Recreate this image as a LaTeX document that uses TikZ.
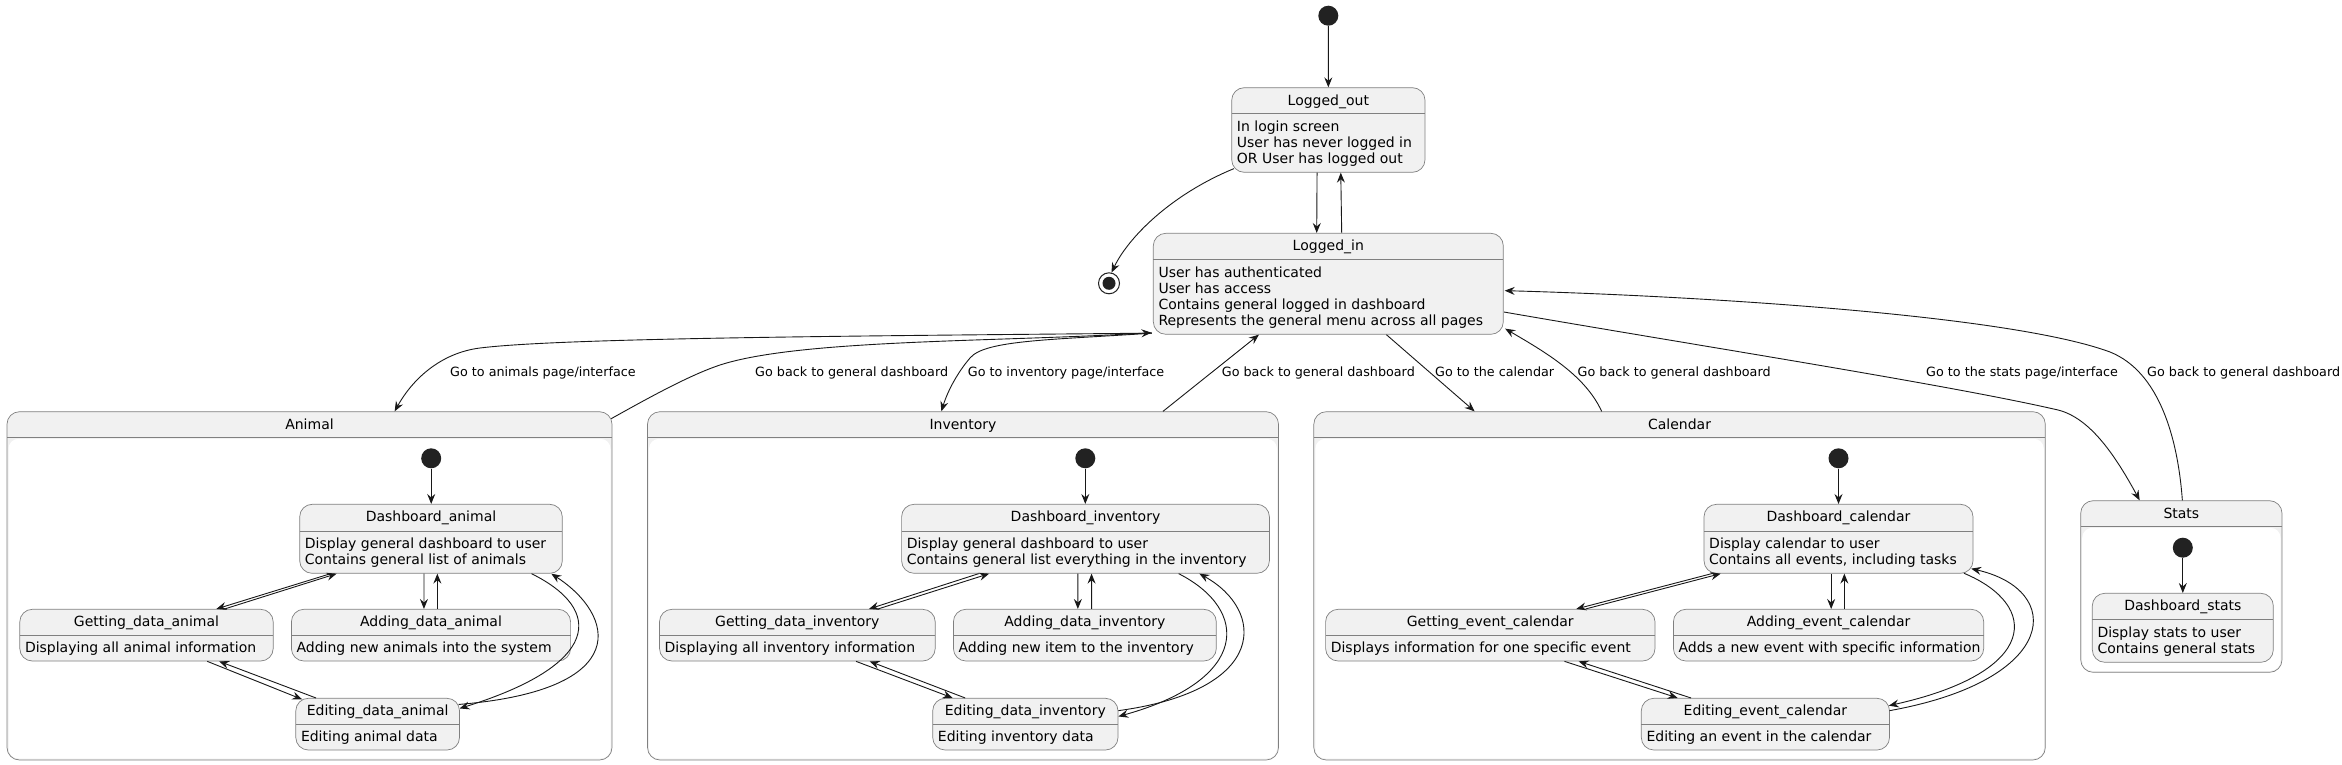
\documentclass[tikz,border=0pt]{standalone}
\usepackage{fontspec}
\setmainfont{DejaVu Sans}
\usetikzlibrary{arrows.meta,calc}
\definecolor{stfill}{HTML}{F1F1F1}
\definecolor{stline}{HTML}{181818}
\definecolor{bdline}{HTML}{808080}
\definecolor{dotc}{HTML}{222222}
\tikzset{
  stbox/.style={rectangle, draw=bdline, line width=0.7pt, fill=stfill, rounded corners=12.5pt, inner sep=0pt},
  sepl/.style={draw=bdline, line width=0.7pt},
  ttl/.style={font=\fontsize{14}{16.3}\selectfont, anchor=base, inner sep=0pt},
  bdy/.style={font=\fontsize{14}{16.3}\selectfont, align=left, anchor=north west, inner sep=0pt},
  lbl/.style={font=\fontsize{12.75}{15}\selectfont, anchor=base west, inner sep=0pt},
  arr/.style={draw=stline, line width=0.9pt, -{Stealth[length=10pt,width=8pt,inset=3.5pt]}},
  initc/.style={circle, fill=dotc, minimum size=20pt, inner sep=0pt},
  finalc/.style={circle, draw=dotc, line width=1pt, fill=white, minimum size=21pt, inner sep=0pt},
}
\newcommand\mystate[8]{%
  \node[stbox, minimum width={(#4-#2)*1pt}, minimum height={(#5-#3)*1pt}] (#1) at ({(#2+#4)/2},{(#3+#5)/2}) {};
  \draw[sepl] (#2,#6) -- (#4,#6);
  \node[ttl] (#1-title) at ({(#2+#4)/2},{#3+17.5}) {#7};
  \node[bdy] (#1-body) at ({#2+5},{#6+6.1}) {\strut #8};
}
\newcommand\mycomp[7]{%
  \node[stbox, minimum width={(#4-#2)*1pt}, minimum height={(#5-#3)*1pt}] (#1) at ({(#2+#4)/2},{(#3+#5)/2}) {};
  \fill[white, rounded corners=10pt] ({#2+1.5},{#6+1.5}) rectangle ({#4-1.5},{#5-1.5});
  \draw[sepl] (#2,#6) -- (#4,#6);
  \node[ttl] (#1-title) at ({(#2+#4)/2},{#3+17.5}) {#7};
}
\begin{document}
\begin{tikzpicture}[x=1pt,y=-1pt]
\useasboundingbox (0,0) rectangle (2342,765);

% top level
\node[initc] (start) at (1328.3,15.7) {};
\mystate{LoggedOut}{1231.7}{87.7}{1425}{172.3}{113.3}{Logged\_out}{In login screen\\User has never logged in\\OR User has logged out}
\mystate{LoggedIn}{1153.3}{233.3}{1503.3}{334.3}{259.3}{Logged\_in}{User has authenticated\\User has access\\Contains general logged in dashboard\\Represents the general menu across all pages}
\node[finalc] (final) at (1109,283.3) {};
\fill[dotc] (final.center) circle[radius=6.5];

% containers
\mycomp{Animal}{7}{411.7}{612}{760}{437.3}{Animal}
\mycomp{Inventory}{647.5}{411.7}{1278.5}{760}{437.3}{Inventory}
\mycomp{Calendar}{1313.8}{411.7}{2045.3}{760}{437.3}{Calendar}
\mycomp{Stats}{2080.7}{500.7}{2282}{672.3}{526.3}{Stats}

% Animal
\node[initc] (iA) at (431.2,458.3) {};
\mystate{DA}{299.7}{504.3}{562.3}{573.3}{530.9}{Dashboard\_animal}{Display general dashboard to user\\Contains general list of animals}
\mystate{GA}{19.8}{609.3}{273.2}{661}{635}{Getting\_data\_animal}{Displaying all animal information}
\mystate{AA}{291.4}{609.3}{570.6}{661}{635}{Adding\_data\_animal}{Adding new animals into the system}
\mystate{EA}{295.8}{698.3}{459.5}{750}{724}{Editing\_data\_animal}{Editing animal data}

% Inventory
\node[initc] (iI) at (1085.3,458.3) {};
\mystate{DI}{901.6}{504.3}{1269.4}{573.3}{530.9}{Dashboard\_inventory}{Display general dashboard to user\\Contains general list everything in the inventory}
\mystate{GI}{659.5}{609.3}{935.2}{661}{635}{Getting\_data\_inventory}{Displaying all inventory information}
\mystate{AI}{953.4}{609.3}{1216.3}{661}{635}{Adding\_data\_inventory}{Adding new item to the inventory}
\mystate{EI}{932.7}{698.3}{1118}{750}{724}{Editing\_data\_inventory}{Editing inventory data}

% Calendar
\node[initc] (iC) at (1838.5,458.3) {};
\mystate{DC}{1704}{504.3}{1973}{573.3}{530.9}{Dashboard\_calendar}{Display calendar to user\\Contains all events, including tasks}
\mystate{GC}{1325.6}{609.3}{1655}{661}{635}{Getting\_event\_calendar}{Displays information for one specific event}
\mystate{AC}{1673.4}{609.3}{1983.7}{661}{635}{Adding\_event\_calendar}{Adds a new event with specific information}
\mystate{EC}{1641.3}{698.3}{1889.5}{750}{724}{Editing\_event\_calendar}{Editing an event in the calendar}

% Stats
\node[initc] (iS) at (2182.8,547.7) {};
\mystate{DS}{2092.3}{593.3}{2273.3}{662.3}{619.7}{Dashboard\_stats}{Display stats to user\\Contains general stats}

% ---- top-level edges
\draw[arr] (start) -- (LoggedOut);
\draw[arr] ($(LoggedOut.south)+(-11.3,0)$) -- ($(LoggedIn.north)+(-11.6,0)$);
\draw[arr] ($(LoggedIn.north)+(13.4,0)$) -- ($(LoggedOut.south)+(12.4,0)$);
\draw[arr] ($(LoggedOut.south west)+(2.5,-4)$) .. controls (1170,195) and (1128,238) .. (final.77);

\draw[arr] ($(LoggedIn.south west)+(-1,-1.5)$) .. controls (850,336) and (560,338) .. (480,348) .. controls (440,353) and (412,380) .. ($(Animal.north west)+(388,0)$);
\draw[arr] ($(Animal.north east)+(-1.1,7.3)$) .. controls (650,397) and (690,375) .. (720,365) .. controls (800,339) and (1000,342) .. ($(LoggedIn.south west)+(-1.5,-2)$);
\draw[arr] ($(LoggedIn.south west)+(-1,-1.5)$) .. controls (1050,340) and (985,340) .. (970,358) .. controls (958,372) and (948,390) .. ($(Inventory.north west)+(294.2,0)$);
\draw[arr] ($(Inventory.north west)+(515.8,0)$) -- ($(LoggedIn.south west)+(106,0)$);
\draw[arr] ($(LoggedIn.south west)+(233.4,0)$) -- ($(Calendar.north west)+(161.2,0)$);
\draw[arr] ($(Calendar.north west)+(288.2,0)$) .. controls (1585,375) and (1545,352) .. ($(LoggedIn.south east)+(1.5,-6)$);
\draw[arr] ($(LoggedIn.south east)+(0.5,-22.6)$) .. controls (1700,346) and (1950,385) .. (2058,410) .. controls (2090,418) and (2115,455) .. ($(Stats.north west)+(59.3,0)$);
\draw[arr] ($(Stats.north west)+(102,0)$) .. controls (2178,440) and (2160,372) .. (2110,352) .. controls (2010,315) and (1700,296) .. ($(LoggedIn.north east)+(1,57.7)$);

% labels
\node[lbl] (l1) at (450,376.6) {Go to animals page/interface};
\node[lbl] (l2) at (755,376.6) {Go back to general dashboard};
\node[lbl] (l3) at (967.7,376.6) {Go to inventory page/interface};
\node[lbl] (l4) at (1221.7,376.6) {Go back to general dashboard};
\node[lbl] (l5) at (1435,376.6) {Go to the calendar};
\node[lbl] (l6) at (1577.5,376.6) {Go back to general dashboard};
\node[lbl] (l7) at (1926,376.6) {Go to the stats page/interface};
\node[lbl] (l8) at (2147,376.6) {Go back to general dashboard};

% ---- Animal edges
\draw[arr] (iA) -- (iA |- DA.north);
\draw[arr] ($(DA.south west)+(31.3,0)$) -- ($(GA.north west)+(196.9,0)$);
\draw[arr] ($(GA.north west)+(205.2,0)$) -- ($(DA.south west)+(37.3,0)$);
\draw[arr] ($(DA.south west)+(124.6,0)$) -- ($(AA.north west)+(132.9,0)$);
\draw[arr] ($(AA.north west)+(146.3,0)$) -- ($(DA.south west)+(138,0)$);
\draw[arr] ($(GA.south west)+(187.8,0)$) -- ($(EA.north west)+(6.7,1.4)$);
\draw[arr] ($(EA.north west)+(20.5,0)$) -- ($(GA.south west)+(199.7,0)$);
\draw[arr] ($(DA.south west)+(232.1,0)$) .. controls (605,610) and (600,665) .. ($(EA.north east)+(-0.3,10.5)$);
\draw[arr] ($(EA.north east)+(-1.2,6.5)$) .. controls (635,690) and (615,615) .. ($(DA.south west)+(251.9,0)$);

% ---- Inventory edges
\draw[arr] (iI) -- (iI |- DI.north);
\draw[arr] ($(DI.south west)+(77.4,0)$) -- ($(GI.north west)+(209.8,0)$);
\draw[arr] ($(GI.north west)+(218.9,0)$) -- ($(DI.south west)+(87.9,0)$);
\draw[arr] ($(DI.south west)+(176.6,0)$) -- ($(AI.north west)+(124.8,0)$);
\draw[arr] ($(AI.north west)+(138.5,0)$) -- ($(DI.south west)+(190.3,0)$);
\draw[arr] ($(GI.south west)+(196.9,0)$) -- ($(EI.north west)+(20.3,0)$);
\draw[arr] ($(EI.north west)+(32.8,0)$) -- ($(GI.south west)+(210.5,0)$);
\draw[arr] ($(DI.south west)+(277.4,0)$) .. controls (1250,610) and (1250,680) .. ($(EI.north east)+(0,18.5)$);
\draw[arr] ($(EI.north east)+(0,12.7)$) .. controls (1270,690) and (1265,610) .. ($(DI.south west)+(298.1,0)$);

% ---- Calendar edges
\draw[arr] (iC) -- (iC |- DC.north);
\draw[arr] ($(DC.south west)+(9.5,-0.4)$) -- ($(GC.north west)+(251,0)$);
\draw[arr] ($(GC.north west)+(260.4,0)$) -- ($(DC.south west)+(17,0)$);
\draw[arr] ($(DC.south west)+(127.5,0)$) -- ($(AC.north west)+(158.1,0)$);
\draw[arr] ($(AC.north west)+(171.3,0)$) -- ($(DC.south west)+(140.7,0)$);
\draw[arr] ($(GC.south west)+(239.2,0)$) -- ($(EC.north west)+(36.7,0)$);
\draw[arr] ($(EC.north west)+(50,0)$) -- ($(GC.south west)+(253.4,0)$);
\draw[arr] ($(DC.south east)+(-9.4,-0.4)$) .. controls (2040,605) and (2040,672) .. ($(EC.north east)+(-1,7.7)$);
\draw[arr] ($(EC.north east)+(-0.3,12.7)$) .. controls (2060,680) and (2065,590) .. ($(DC.south east)+(-2.2,-5)$);

% ---- Stats edge
\draw[arr] (iS) -- (iS |- DS.north);
\end{tikzpicture}
\end{document}
